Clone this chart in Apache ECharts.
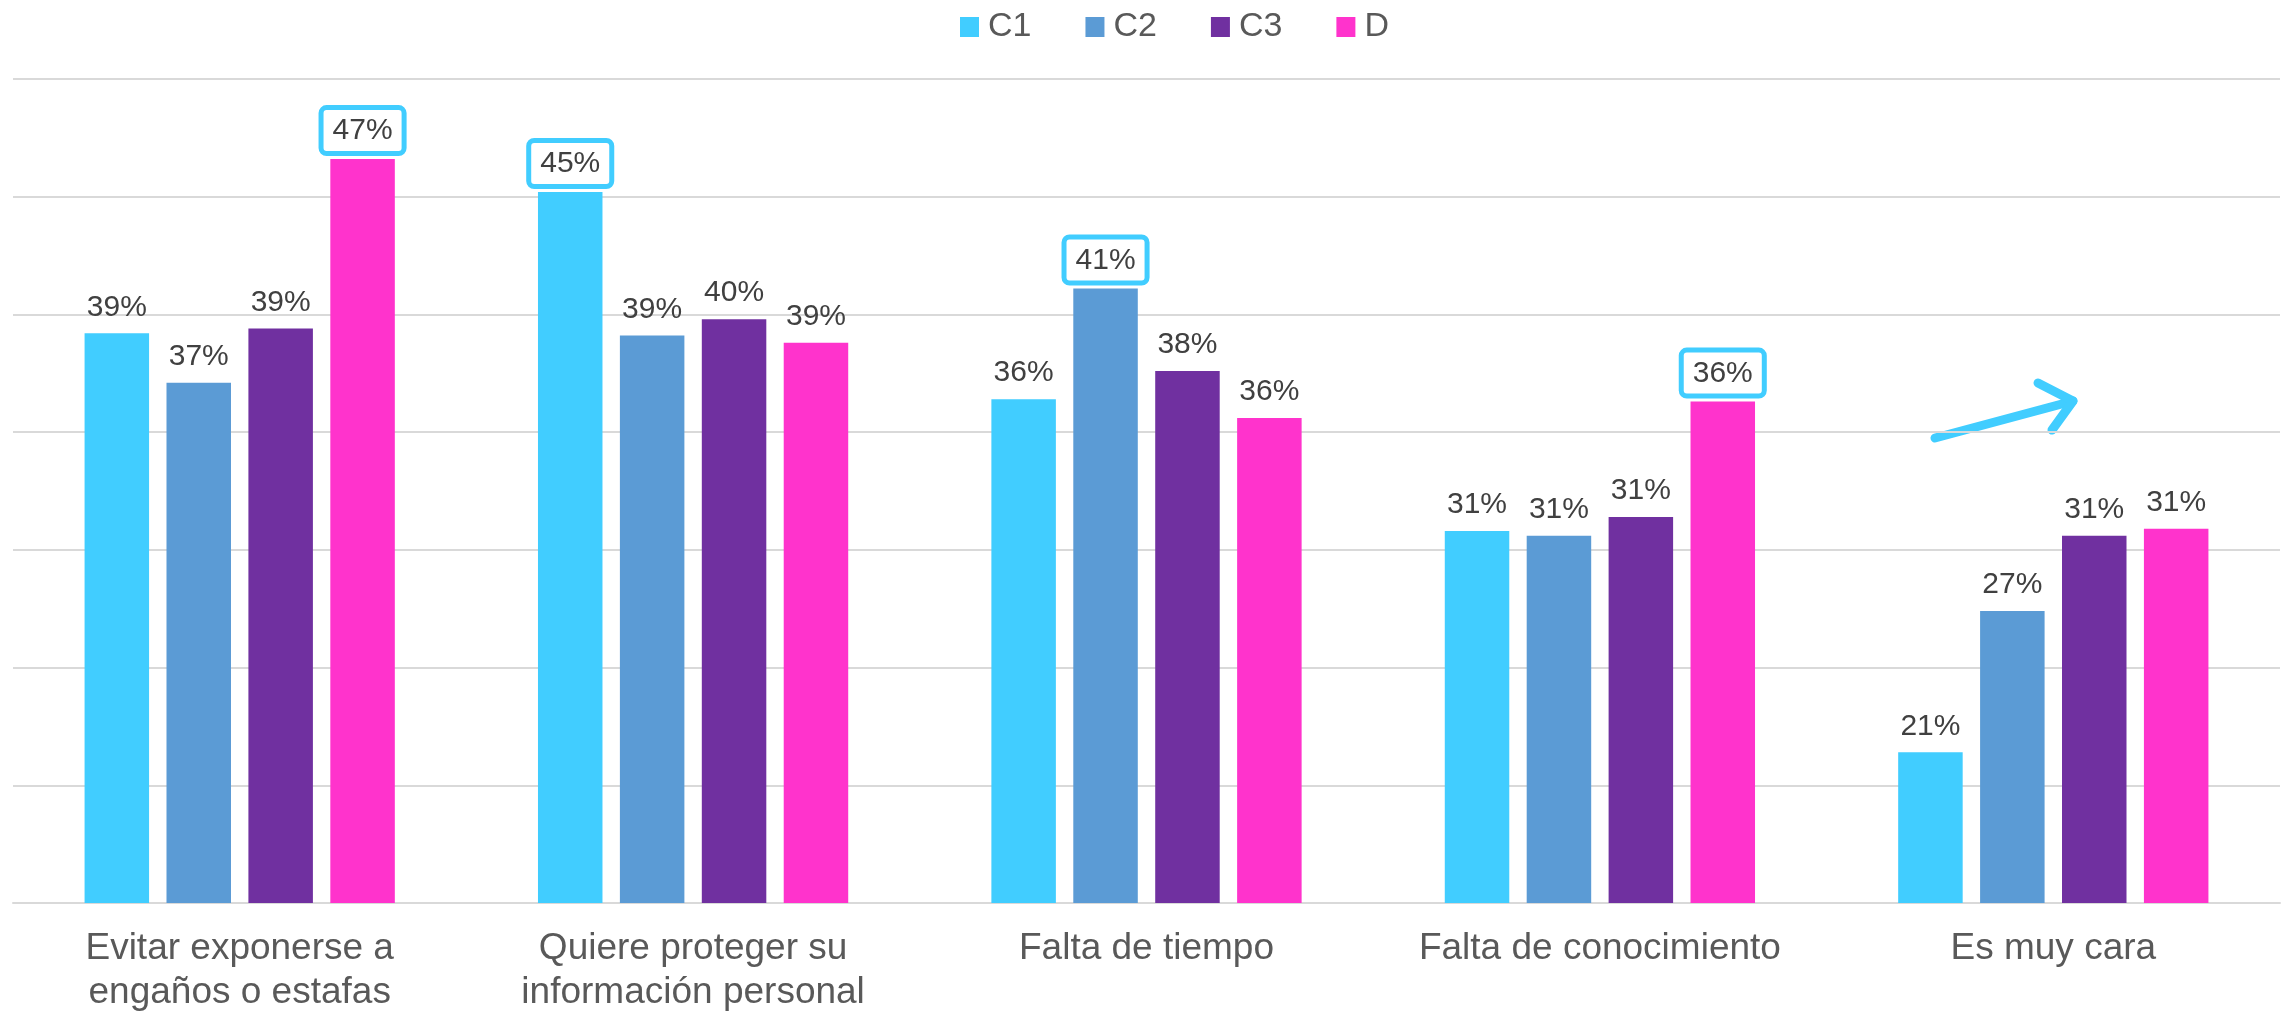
<!DOCTYPE html>
<html>
<head>
<meta charset="utf-8">
<title>chart</title>
<script src="https://cdn.jsdelivr.net/npm/echarts@6.0.0/dist/echarts.min.js"></script>
<style>
body {
	margin: 0px;
	background: #fff;
}
#main1 {
	width: 2288px;
	height: 1011px;
}
</style>
</head>
<body>
<div id="main1"></div>
<script>
var categories = ['Evitar exponerse a\nengaños o estafas', 'Quiere proteger su\ninformación personal', 'Falta de tiempo', 'Falta de conocimiento', 'Es muy cara'];
var seriesNames = ['C1', 'C2', 'C3', 'D'];
var c1 = [39.2, 45.2, 36.4, 30.8, 21.4];
var c2 = [37.1, 39.1, 41.1, 30.6, 27.4];
var c3 = [39.4, 39.8, 37.6, 31.4, 30.6];
var d = [46.6, 38.8, 35.6, 36.3, 30.9];
// [series index, category index] of the labels with a box
var boxed = [[3, 0], [0, 1], [1, 2], [3, 3]];

var colors = ['#41CDFF', '#5B9BD5', '#7030A0', '#FF33CC'];
var cyan = '#41CDFF';

function isBoxed(s, i) {
	for (var k = 0; k < boxed.length; k++) {
		if (boxed[k][0] === s && boxed[k][1] === i) return true;
	}
	return false;
}

function buildSeries(s, values) {
	var data = [];
	for (var i = 0; i < values.length; i++) {
		var item = { value: values[i] };
		if (isBoxed(s, i)) {
			item.label = {
				borderColor: cyan,
				borderWidth: 5,
				borderRadius: 3,
				backgroundColor: '#fff',
				padding: [5, 9, 4, 9],
				distance: 8
			};
		}
		data.push(item);
	}
	return {
		name: seriesNames[s],
		type: 'bar',
		barWidth: 64.5,
		barGap: '27%',
		itemStyle: { color: colors[s] },
		label: {
			show: true,
			position: 'top',
			distance: 10,
			color: '#404040',
			fontFamily: 'Liberation Sans',
			fontSize: 30,
			lineHeight: 32,
			formatter: function (p) { return Math.round(p.value) + '%'; }
		},
		data: data
	};
}

var myChart = echarts.init(document.getElementById('main1'));

var option = {
	animation: false,
	color: colors,
	legend: {
		top: 5,
		left: 955,
		icon: 'rect',
		itemWidth: 19,
		itemHeight: 20,
		itemGap: 54,
		textStyle: {
			color: '#595959',
			fontFamily: 'Liberation Sans',
			fontSize: 34,
			lineHeight: 34,
			padding: [0, 0, 0, 4]
		},
		data: seriesNames
	},
	grid: {
		left: 13,
		right: 8,
		top: 79,
		bottom: 108,
		containLabel: false,
		outerBoundsMode: 'none'
	},
	xAxis: {
		type: 'category',
		data: categories,
		axisTick: { show: false },
		axisLine: { lineStyle: { color: '#d9d9d9', width: 2 } },
		axisLabel: {
			interval: 0,
			margin: 24,
			color: '#595959',
			fontFamily: 'Liberation Sans',
			fontSize: 37,
			lineHeight: 44
		}
	},
	yAxis: {
		type: 'value',
		min: 15,
		max: 50,
		interval: 5,
		axisLabel: { show: false },
		axisLine: { show: false },
		axisTick: { show: false },
		splitLine: { lineStyle: { color: '#d9d9d9', width: 2 } }
	},
	graphic: [
		{
			type: 'polyline',
			shape: { points: [[1935, 438], [2073, 401]] },
			style: { stroke: cyan, lineWidth: 9, lineCap: 'round', fill: null }
		},
		{
			type: 'polyline',
			shape: { points: [[2038, 383], [2073, 401], [2052, 430]] },
			style: { stroke: cyan, lineWidth: 9, lineCap: 'round', lineJoin: 'round', fill: null }
		}
	],
	series: [
		buildSeries(0, c1),
		buildSeries(1, c2),
		buildSeries(2, c3),
		buildSeries(3, d)
	]
};

myChart.setOption(option);
</script>
</body>
</html>
